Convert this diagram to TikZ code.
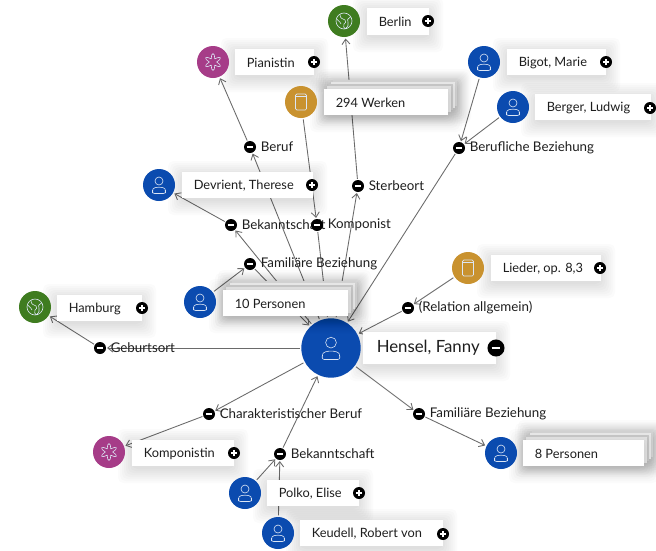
\documentclass[tikz,border=0pt]{standalone}
\usepackage{fontspec}
\setmainfont{Lato}
\usetikzlibrary{arrows.meta}
\pgfdeclarelayer{bg}
\pgfdeclarelayer{lines}
\pgfsetlayers{bg,lines,main}
\definecolor{hblue}{HTML}{0B4BAF}
\definecolor{hgreen}{HTML}{3F7C20}
\definecolor{hmag}{HTML}{A63C88}
\definecolor{hgold}{HTML}{C9922F}
\definecolor{hline}{HTML}{6A6A6A}
\definecolor{htext}{HTML}{1E1E1E}
\definecolor{hicon}{HTML}{DCE6F5}
\tikzset{
  conn/.style={draw=hline,line width=.65pt,-{Straight Barb[length=3.8pt,width=6pt,line width=.65pt]}},
  ent/.style={circle,minimum size=24pt,inner sep=0pt,outer sep=1.2pt},
  boxlab/.style={fill=white,inner sep=0pt,text=htext,font=\fontsize{9.6}{11}\selectfont,anchor=north west},
  rellab/.style={text=htext,inner sep=0pt,anchor=west,font=\fontsize{10}{12}\selectfont},
  btn/.style={circle,fill=black,minimum size=9pt,inner sep=0pt,outer sep=.8pt},
  minusbtn/.style={btn,path picture={\draw[white,line width=1.1pt] ([xshift=-2.3pt]path picture bounding box.center)--([xshift=2.3pt]path picture bounding box.center);}},
  plusbtn/.style={btn,path picture={\draw[white,line width=1.1pt] ([xshift=-2.3pt]path picture bounding box.center)--([xshift=2.3pt]path picture bounding box.center) ([yshift=-2.3pt]path picture bounding box.center)--([yshift=2.3pt]path picture bounding box.center);}},
  icon/.style={draw=hicon,line width=.45pt,fill=none},
  person/.pic={
    \draw[icon] (0,-4) circle[radius=4];
    \draw[icon,rounded corners=1.5pt] (-6.5,8.5)--(6.5,8.5)--(6.5,6) .. controls (5.5,1.5) and (-5.5,1.5) .. (-6.5,6)--cycle;
  },
  globe/.pic={
    \draw[icon] (0,0) circle[radius=8];
    \draw[icon,line join=round] (-4,-6.5)..controls (-4,-3) and (-2,-2)..(1,-1)..controls (3,1) and (1,2)..(0,3)..controls (-1,5) and (0,7)..(1,7.8)..controls (4,6) and (5,3)..(4,1)..controls (2,-1) and (4,-2)..(6.5,-4);
    \draw[icon] (-7.2,-2)..controls (-5,1) and (-3,1)..(-3,3);
  },
  book/.pic={
    \draw[icon,rounded corners=1pt] (-5.5,-8) rectangle (5.5,8);
    \draw[icon] (-5.5,-5.5)--(5.5,-5.5);
  },
  flower/.pic={
    \draw[icon,line join=round] plot[smooth cycle,samples=36,domain=0:350] ({(6+2.4*cos(6*\x))*cos(\x+30)},{(6+2.4*cos(6*\x))*sin(\x+30)});
  },
}
% soft shadow under a box
\newcommand\shad[4]{%
  \foreach \s in {14,12,10,8,6,4,2,0}{
    \fill[black,opacity=.016,rounded corners=4pt] (#1-\s,#2-\s+3) rectangle (#3+\s,#4+\s+3);
  }}
% entity: name, x, y, colour, icon
\newcommand\ent[5]{\node[ent,fill=#4] (#1) at (#2,#3) {}; \pic at (#2,#3) {#5};}
% label box: name, x1,y1,x2,y2,text
\newcommand\lab[6]{%
  \shad{#2}{#3}{#4}{#5}%
  \pgfmathsetmacro\bw{(#4-#2)*.75}\pgfmathsetmacro\bh{(#5-#3)*.75}%
  \node[boxlab,minimum width=\bw pt,minimum height=\bh pt] (#1) at (#2,#3) {};
  \node[text=htext,inner sep=0pt,anchor=west,font=\fontsize{9.6}{11}\selectfont] (#1t) at (#2+11.5,#3/2+#5/2+.5) {#6};
}
% stacked label
\newcommand\stacklab[6]{%
  \shad{#2+9}{#3-9}{#4+9}{#5-9}%
  \shad{#2+6}{#3-6}{#4+6}{#5-6}%
  \fill[black!15] (#2+9,#3-9) rectangle (#4+9,#5-9);
  \fill[black!5] (#2+7,#3-7) rectangle (#4+7,#5-7);
  \fill[black!17] (#2+5,#3-5) rectangle (#4+5,#5-5);
  \fill[black!5] (#2+3,#3-3) rectangle (#4+3,#5-3);
  \lab{#1}{#2}{#3}{#4}{#5}{#6}%
}
\newcommand\plusb[3]{\node[plusbtn] (#1) at (#2,#3) {};}
\newcommand\rel[4]{\node[rellab] (#1t) at (#2+10.5,#3) {#4}; \node[minusbtn] (#1) at (#2,#3) {};}
\begin{document}
\begin{tikzpicture}[x=.75pt,y=-.75pt]
\useasboundingbox (0,0) rectangle (656,550);
\begin{pgfonlayer}{bg}
\fill[white] (0,0) rectangle (656,550);
\end{pgfonlayer}
% central
\lab{lhensel}{363}{332}{496}{364}{}
\node[text=htext,inner sep=0pt,anchor=west,font=\fontsize{12.6}{15}\selectfont] (thensel) at (376.5,348) {Hensel, Fanny};
\node[circle,fill=hblue,minimum size=44.5pt,inner sep=0pt,outer sep=1.2pt] (hensel) at (331,348) {};
\pic[scale=1.35] at (331,348) {person};
\node[btn,minimum size=12.8pt,path picture={\draw[white,line width=1.5pt] ([xshift=-3.2pt]path picture bounding box.center)--([xshift=3.2pt]path picture bounding box.center);}] (bhensel) at (496,348) {};
% entities
\lab{lberlin}{367}{8}{429}{35}{Berlin} \ent{berlin}{344}{21}{hgreen}{globe} \plusb{pberlin}{428}{21}
\lab{lpian}{235}{49}{314}{75}{Pianistin} \ent{pian}{213}{62}{hmag}{flower} \plusb{ppian}{314}{62}
\stacklab{lwerke}{324}{89}{448}{115}{294 Werken} \ent{werke}{301}{102}{hgold}{book}
\lab{lbigot}{507}{49}{606}{75}{Bigot, Marie} \ent{bigot}{484}{62}{hblue}{person} \plusb{pbigot}{606}{62}
\lab{lberger}{535}{94}{651}{120}{Berger, Ludwig} \ent{berger}{513}{107}{hblue}{person} \plusb{pberger}{650}{108}
\lab{ldev}{182}{172}{313}{198}{Devrient, Therese} \ent{dev}{159}{185}{hblue}{person} \plusb{pdev}{312}{185}
\stacklab{lzehn}{223}{290}{348}{316}{10 Personen} \ent{zehn}{200}{302}{hblue}{person}
\lab{lham}{57}{295}{142}{321}{Hamburg} \ent{ham}{35}{307}{hgreen}{globe} \plusb{pham}{142}{308}
\lab{llied}{491}{255}{601}{281}{Lieder, op. 8,3} \ent{lied}{468}{268}{hgold}{book} \plusb{plied}{600}{268}
\stacklab{lacht}{523}{440}{644}{466}{8 Personen} \ent{acht}{501}{453}{hblue}{person}
\lab{lkomp}{132}{440}{234}{466}{Komponistin} \ent{kompin}{109}{452}{hmag}{flower} \plusb{pkomp}{234}{453}
\lab{lpolko}{267}{480}{359}{506}{Polko, Elise} \ent{polko}{245}{493}{hblue}{person} \plusb{ppolko}{359}{493}
\lab{lkeu}{300}{520}{443}{546}{Keudell, Robert von} \ent{keu}{278}{533}{hblue}{person} \plusb{pkeu}{443}{534}
% relations
\rel{mberuflich}{459}{148}{Berufliche Beziehung}
\rel{msterbe}{358}{186}{Sterbeort}
\rel{mberuf}{250}{147}{Beruf}
\rel{mbek}{231}{225}{Bekanntschaft}
\rel{mkomp}{317}{225}{Komponist}
\rel{mfam}{250}{264}{Familiäre Beziehung}
\rel{mgeb}{100}{348}{Geburtsort}
\rel{mrela}{408}{308}{(Relation allgemein)}
\rel{mfamb}{419}{414}{Familiäre Beziehung}
\rel{mchar}{209}{414}{Charakteristischer Beruf}
\rel{mbekb}{280}{454}{Bekanntschaft}
% connectors
\begin{pgfonlayer}{lines}
\draw[conn] (hensel)--(mgeb);
\draw[conn] (mgeb)--(ham);
\draw[conn] (hensel)--(mchar);
\draw[conn] (mchar)--(kompin);
\draw[conn] (mbekb)--(hensel);
\draw[conn] (polko)--(mbekb);
\draw[conn] (keu)--(mbekb);
\draw[conn] (hensel)--(mfamb);
\draw[conn] (mfamb)--(acht);
\draw[conn] (lied)--(mrela);
\draw[conn] (mrela)--(hensel);
\draw[conn] (mberuflich)--(hensel);
\draw[conn] (bigot)--(mberuflich);
\draw[conn] (berger)--(mberuflich);
\draw[conn] (hensel)--(msterbe);
\draw[conn] (msterbe)--(berlin);
\draw[conn] (werke)--(mkomp);
\draw[conn] (mkomp)--(hensel);
\draw[conn] (hensel)--(mbek);
\draw[conn] (mbek)--(dev);
\draw[conn] (hensel)--(mberuf);
\draw[conn] (mberuf)--(pian);
\draw[conn] (zehn)--(mfam);
\draw[conn] (mfam)--(hensel);
\end{pgfonlayer}
\end{tikzpicture}
\end{document}
